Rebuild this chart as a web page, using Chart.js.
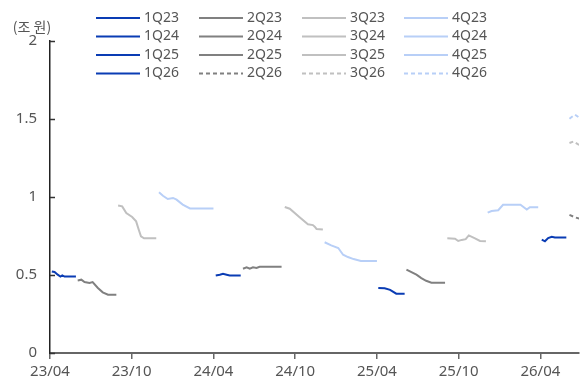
<!DOCTYPE html>
<html>
<head>
<meta charset="utf-8">
<script src="https://cdn.jsdelivr.net/npm/chart.js@4/dist/chart.umd.min.js"></script>
<style>
  html, body { margin: 0; padding: 0; background: #fff; }
  #wrap { width: 584px; height: 384px; position: relative; }
</style>
</head>
<body>
<div id="wrap"><canvas id="c" width="584" height="384"></canvas></div>
<script>
// ---- Data ----
const unitLabel = '(조 원)';
const tickLabels = ['23/04', '23/10', '24/04', '24/10', '25/04', '25/10', '26/04'];
const xStart = '2023-04-01';
const xEnd = '2026-06-26';
const yTicks = [0, 0.5, 1, 1.5, 2];

const seriesLabels = ['1Q23','2Q23','3Q23','4Q23','1Q24','2Q24','3Q24','4Q24','1Q25','2Q25','3Q25','4Q25','1Q26','2Q26','3Q26','4Q26'];

const d1Q23 = ['2023-04-05','2023-04-11','2023-04-18','2023-04-24','2023-04-28','2023-05-03','2023-05-29'];
const v1Q23 = [0.523, 0.519, 0.502, 0.49, 0.497, 0.49, 0.49];
const d2Q23 = ['2023-06-02','2023-06-10','2023-06-17','2023-06-28','2023-07-05','2023-07-17','2023-07-28','2023-08-09','2023-08-28'];
const v2Q23 = [0.465, 0.47, 0.455, 0.449, 0.455, 0.417, 0.389, 0.374, 0.374];
const d3Q23 = ['2023-09-01','2023-09-10','2023-09-19','2023-10-02','2023-10-11','2023-10-17','2023-10-22','2023-10-29','2023-11-25'];
const v3Q23 = [0.946, 0.94, 0.897, 0.872, 0.844, 0.79, 0.748, 0.735, 0.735];
const d4Q23 = ['2023-12-01','2023-12-10','2023-12-21','2024-01-02','2024-01-10','2024-01-24','2024-02-09','2024-04-01'];
const v4Q23 = [1.03, 1.008, 0.987, 0.994, 0.983, 0.951, 0.927, 0.927];
const d1Q24 = ['2024-04-06','2024-04-15','2024-04-22','2024-04-30','2024-05-07','2024-06-01'];
const v1Q24 = [0.497, 0.502, 0.508, 0.502, 0.497, 0.497];
const d2Q24 = ['2024-06-06','2024-06-14','2024-06-21','2024-06-28','2024-07-06','2024-07-13','2024-09-01'];
const v2Q24 = [0.54, 0.549, 0.54, 0.549, 0.545, 0.553, 0.553];
const d3Q24 = ['2024-09-08','2024-09-19','2024-10-11','2024-10-30','2024-11-10','2024-11-14','2024-11-18','2024-12-02'];
const v3Q24 = [0.936, 0.925, 0.87, 0.825, 0.82, 0.81, 0.795, 0.792];
const d4Q24 = ['2024-12-06','2024-12-21','2025-01-06','2025-01-17','2025-01-28','2025-02-09','2025-02-24','2025-04-01'];
const v4Q24 = [0.71, 0.69, 0.673, 0.63, 0.615, 0.602, 0.59, 0.59];
const d1Q25 = ['2025-04-04','2025-04-18','2025-04-30','2025-05-14','2025-06-02'];
const v1Q25 = [0.417, 0.415, 0.405, 0.38, 0.38];
const d2Q25 = ['2025-06-06','2025-06-28','2025-07-09','2025-07-20','2025-08-01','2025-09-01'];
const v2Q25 = [0.534, 0.502, 0.48, 0.463, 0.45, 0.45];
const d3Q25 = ['2025-09-06','2025-09-23','2025-09-30','2025-10-08','2025-10-17','2025-10-24','2025-11-07','2025-11-18','2025-12-01'];
const v3Q25 = [0.735, 0.733, 0.718, 0.725, 0.73, 0.754, 0.735, 0.718, 0.716];
const d4Q25 = ['2025-12-05','2025-12-14','2025-12-29','2026-01-09','2026-02-16','2026-03-01','2026-03-08','2026-03-27'];
const v4Q25 = [0.90, 0.91, 0.915, 0.95, 0.95, 0.92, 0.935, 0.935];
const d1Q26 = ['2026-04-04','2026-04-11','2026-04-18','2026-04-26','2026-05-03','2026-05-29'];
const v1Q26 = [0.727, 0.716, 0.737, 0.745, 0.74, 0.74];
const d2Q26 = ['2026-06-05','2026-06-17','2026-06-28'];
const v2Q26 = [0.885, 0.87, 0.86];
const d3Q26 = ['2026-06-05','2026-06-14','2026-06-28'];
const v3Q26 = [1.346, 1.356, 1.33];
const d4Q26 = ['2026-06-05','2026-06-17','2026-06-28'];
const v4Q26 = [1.502, 1.528, 1.506];

const seriesDates = [d1Q23,d2Q23,d3Q23,d4Q23,d1Q24,d2Q24,d3Q24,d4Q24,d1Q25,d2Q25,d3Q25,d4Q25,d1Q26,d2Q26,d3Q26,d4Q26];
const seriesValues = [v1Q23,v2Q23,v3Q23,v4Q23,v1Q24,v2Q24,v3Q24,v4Q24,v1Q25,v2Q25,v3Q25,v4Q25,v1Q26,v2Q26,v3Q26,v4Q26];
const dashedSeries = ['2Q26','3Q26','4Q26'];

// ---- Styles ----
const quarterColors = ['#0a3cb4', '#808080', '#c0c0c0', '#b8cff7'];
const textColor = '#555555';
const fontFamily = "'Noto Sans', 'Noto Sans CJK KR', sans-serif";

// date -> fractional months since April 2023
function monthIndex(s) {
  const [y, m, d] = s.split('-').map(Number);
  const dim = new Date(Date.UTC(y, m, 0)).getUTCDate();
  return (y - 2023) * 12 + (m - 4) + (d - 1) / dim;
}
function labelToMonth(l) {
  const [yy, mm] = l.split('/').map(Number);
  return (2000 + yy - 2023) * 12 + (mm - 4);
}
const tickValues = tickLabels.map(labelToMonth);

const datasets = seriesLabels.map((lab, i) => {
  const q = parseInt(lab[0], 10) - 1;
  return {
    label: lab,
    data: seriesDates[i].map((d, k) => ({ x: monthIndex(d), y: seriesValues[i][k] })),
    borderColor: quarterColors[q],
    backgroundColor: quarterColors[q],
    borderWidth: 2,
    borderDash: dashedSeries.includes(lab) ? [4, 3] : [],
    pointRadius: 0,
    pointHoverRadius: 0,
    tension: 0,
    fill: false
  };
});

const customDraw = {
  id: 'customDraw',
  afterDraw(chart) {
    const ctx = chart.ctx;
    const ys = chart.scales.y;
    const area = chart.chartArea;
    ctx.save();
    // inner y ticks
    ctx.strokeStyle = '#333';
    ctx.lineWidth = 1.5;
    yTicks.forEach(v => {
      const py = Math.round(ys.getPixelForValue(v)) + 0.5;
      ctx.beginPath();
      ctx.moveTo(area.left, py);
      ctx.lineTo(area.left + 5, py);
      ctx.stroke();
    });
    // unit label
    ctx.fillStyle = textColor;
    ctx.font = "14px 'Noto Sans CJK KR', 'Noto Sans', sans-serif";
    ctx.textAlign = 'center';
    ctx.textBaseline = 'middle';
    ctx.fillText(unitLabel, 32, 27);
    // legend
    const colX = [96, 199, 302, 404];
    const rowY = [18, 36.5, 55, 73.5];
    ctx.font = "14px " + fontFamily;
    ctx.textAlign = 'left';
    chart.data.datasets.forEach((ds, i) => {
      const c = i % 4, r = Math.floor(i / 4);
      const x = colX[c], y = rowY[r];
      ctx.beginPath();
      ctx.setLineDash(ds.borderDash || []);
      ctx.strokeStyle = ds.borderColor;
      ctx.lineWidth = 2;
      ctx.moveTo(x, y);
      ctx.lineTo(x + 44, y);
      ctx.stroke();
      ctx.setLineDash([]);
      ctx.fillStyle = textColor;
      ctx.fillText(ds.label, x + 48, y);
    });
    ctx.restore();
  }
};

new Chart(document.getElementById('c'), {
  type: 'line',
  data: { datasets },
  options: {
    responsive: false,
    animation: false,
    parsing: true,
    layout: { padding: { left: 0, right: 5, top: 41, bottom: 0 } },
    plugins: { legend: { display: false }, tooltip: { enabled: false } },
    scales: {
      x: {
        type: 'linear',
        min: monthIndex(xStart),
        max: monthIndex(xEnd),
        afterBuildTicks(scale) { scale.ticks = tickValues.map(v => ({ value: v })); },
        afterFit(scale) { scale.height = 31; },
        ticks: {
          autoSkip: false, maxRotation: 0, padding: 4,
          color: textColor,
          font: { family: fontFamily, size: 15 },
          callback(value) {
            const idx = tickValues.indexOf(value);
            return idx >= 0 ? tickLabels[idx] : '';
          }
        },
        grid: { display: true, drawOnChartArea: false, drawTicks: true, tickLength: 6, color: '#666', lineWidth: 1.5 },
        border: { display: true, color: '#666', width: 2 }
      },
      y: {
        type: 'linear',
        min: 0, max: 2,
        afterBuildTicks(scale) { scale.ticks = yTicks.map(v => ({ value: v })); },
        afterFit(scale) { scale.width = 50; },
        ticks: {
          padding: 13,
          color: textColor,
          font: { family: fontFamily, size: 15 },
          callback(value) { return String(value); }
        },
        grid: { display: true, drawOnChartArea: false, drawTicks: false },
        border: { display: true, color: '#222', width: 1.5 }
      }
    }
  },
  plugins: [customDraw]
});
</script>
</body>
</html>
